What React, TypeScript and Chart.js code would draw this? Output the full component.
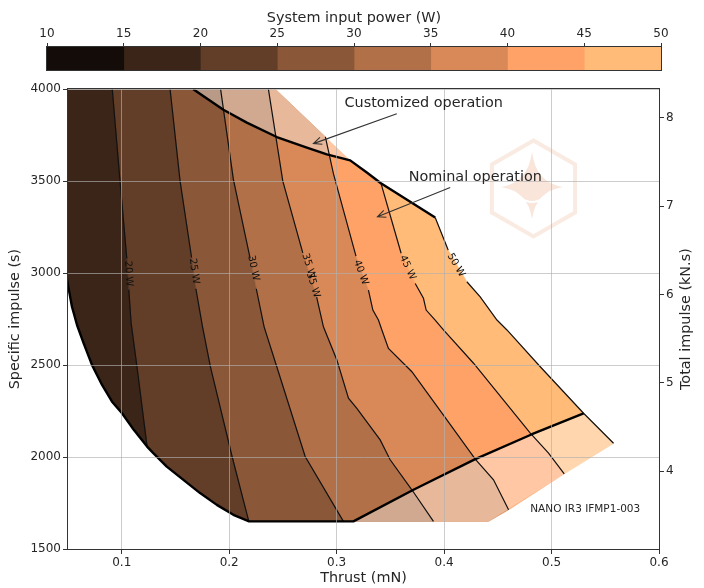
import React, { useEffect, useRef } from "react";
import { Chart, registerables } from "chart.js";

Chart.register(...registerables);

const FONT = "'DejaVu Sans', 'Liberation Sans', sans-serif";
const TEXT = "#262626";

// ---------- data ----------
const powerLevels = [10, 15, 20, 25, 30, 35, 40, 45, 50];
const bandColors = ["#130c08", "#3b2518", "#623e28", "#8a5738", "#b17047", "#d98957", "#ffa267", "#ffbb77"];

const xTicks = [0.1, 0.2, 0.3, 0.4, 0.5, 0.6];
const yTicks = [1500, 2000, 2500, 3000, 3500, 4000];
const y2Ticks = [4, 5, 6, 7, 8];
const thrustRange = [0.05, 0.6];
const ispRange = [1500, 4000];
const impulsePerIsp = 0.002081; // kN.s per second of specific impulse

// iso-power contour lines: [thrust (mN), specific impulse (s)], top to bottom
const c20 = [[0.0912, 4000], [0.0984, 3500], [0.1047, 3080], [0.1066, 2910], [0.1087, 2730], [0.1142, 2491], [0.1236, 2057]];
const c25 = [[0.145, 4000], [0.1543, 3500], [0.165, 3085], [0.169, 2915], [0.1752, 2708], [0.1825, 2491], [0.2027, 2003], [0.2182, 1652]];
const c30 = [[0.192, 4000], [0.2039, 3510], [0.2195, 3080], [0.2252, 2915], [0.2325, 2708], [0.2443, 2491], [0.2707, 2003], [0.3063, 1650]];
const c35 = [[0.2365, 4000], [0.2499, 3500], [0.2685, 3110], [0.2814, 2870], [0.2877, 2708], [0.3002, 2528], [0.311, 2320], [0.3188, 2265], [0.3405, 2093], [0.3498, 1985], [0.37, 1822], [0.3901, 1650]];
const c40 = [[0.2895, 3741], [0.297, 3541], [0.318, 3092], [0.3296, 2908], [0.3337, 2799], [0.3389, 2745], [0.3421, 2691], [0.3482, 2591], [0.37, 2464], [0.4026, 2202], [0.429, 1989], [0.446, 1876], [0.46, 1713]];
const c45 = [[0.3412, 3489], [0.36, 3108], [0.3731, 2944], [0.3808, 2863], [0.3833, 2799], [0.3917, 2745], [0.3994, 2691], [0.4274, 2510], [0.4802, 2130], [0.4972, 2021], [0.5118, 1909]];
const c50 = [[0.3917, 3302], [0.4026, 3143], [0.4038, 3125], [0.4212, 2953], [0.4336, 2871], [0.4492, 2745], [0.4585, 2691], [0.4895, 2491], [0.5298, 2238], [0.5577, 2075]];
const contourLines = [c20, c25, c30, c35, c40, c45, c50];
const contourPower = [20, 25, 30, 35, 40, 45, 50];
const contourGaps = [2, 2, 2, 2, 2, 1, 2]; // segment hidden behind the inline label

// inline contour labels
const labelPower = [20, 25, 30, 35, 35, 40, 45, 50];
const labelX = [0.1062, 0.1673, 0.2225, 0.2739, 0.2781, 0.3226, 0.3661, 0.4111];
const labelY = [2997, 3011, 3027, 3038, 2935, 3003, 3030, 3043];

// nominal operation envelope (thick lines)
const nominalUpper = [[0.1666, 4000], [0.1946, 3888], [0.2164, 3818], [0.2443, 3740], [0.2723, 3682], [0.2909, 3646], [0.3126, 3613], [0.3281, 3547], [0.3412, 3489], [0.3917, 3302]];
const nominalLower = [
  [0.045, 3110], [0.05, 2935], [0.0537, 2817], [0.0584, 2718], [0.0646, 2618], [0.0723, 2501], [0.0817, 2392],
  [0.091, 2301], [0.1003, 2238], [0.1112, 2148], [0.1236, 2057], [0.1294, 2021], [0.1419, 1948], [0.1574, 1876],
  [0.1729, 1804], [0.1885, 1740], [0.2039, 1686], [0.2185, 1650], [0.3156, 1650], [0.3715, 1822], [0.429, 1989],
  [0.4818, 2124], [0.5298, 2238],
];
// customized-operation domain edges
const domainTopEdge = [[0.243, 4000], [0.3126, 3613]];
const domainBottomEdge = [[0.4413, 1650], [0.5577, 2075]];

// annotations
const annText = ["Customized operation", "Nominal operation"];
const annTextX = [0.381, 0.429];
const annTextY = [3923, 3521];
const annFromX = [0.356, 0.4057];
const annFromY = [3867, 3465];
const annToX = [0.2784, 0.338];
const annToY = [3704, 3306];
const modelText = "NANO IR3 IFMP1-003";
const modelX = 0.4802;
const modelY = 1717;
const logoX = 0.4832;
const logoY = 3460;

// ---------- derived polygons ----------
const rev = (a: number[][]) => [...a].reverse();
const bandPolys = [
  [[0.04, 4000], ...nominalLower.slice(0, 11), ...rev(c20)],
  [...c20, ...nominalLower.slice(11, 17), ...rev(c25)],
  [...c25, nominalLower[17], ...rev(c30)],
  [...c30, ...rev(c35)],
  [...c35, domainBottomEdge[0], ...rev(c40), domainTopEdge[0]],
  [...c40, ...rev(c45), nominalUpper[7], nominalUpper[6]],
  [...c45, ...rev(c50)],
];
const topFaded = [...nominalUpper.slice(0, 7), domainTopEdge[0]];
const bottomFaded = [...nominalLower.slice(18), domainBottomEdge[1], domainBottomEdge[0]];

const toXY = (a: number[][]) => a.map(([x, y]) => ({ x, y }));

// ---------- plugins ----------
const framePlugin = {
  id: "frame",
  afterDraw(chart: any) {
    const { ctx, chartArea: a } = chart;
    ctx.save();
    ctx.strokeStyle = "#333";
    ctx.lineWidth = 1;
    ctx.strokeRect(Math.round(a.left) - 0.5, Math.round(a.top) - 0.5, Math.round(a.right - a.left) + 1, Math.round(a.bottom - a.top) + 1);
    ctx.restore();
  },
};

const watermarkPlugin = {
  id: "watermark",
  afterDatasetsDraw(chart: any) {
    const { ctx, scales, chartArea: a } = chart;
    const cx = scales.x.getPixelForValue(logoX);
    const cy = scales.y.getPixelForValue(logoY);
    ctx.save();
    ctx.beginPath();
    ctx.rect(a.left, a.top, a.right - a.left, a.bottom - a.top);
    ctx.clip();
    ctx.beginPath();
    for (let k = 0; k < 6; k++) {
      const ang = (-90 + 60 * k) * Math.PI / 180;
      const px = cx + 48 * Math.cos(ang);
      const py = cy + 48 * Math.sin(ang);
      if (k === 0) ctx.moveTo(px, py); else ctx.lineTo(px, py);
    }
    ctx.closePath();
    ctx.strokeStyle = "rgba(240,190,160,0.3)";
    ctx.lineWidth = 4;
    ctx.stroke();
    const sx = cx - 1.5, sy = cy - 1.5;
    ctx.beginPath();
    ctx.moveTo(sx, sy - 35);
    ctx.quadraticCurveTo(sx + 4, sy - 4, sx + 31, sy);
    ctx.quadraticCurveTo(sx + 4, sy + 4, sx, sy + 32);
    ctx.quadraticCurveTo(sx - 4, sy + 4, sx - 31, sy);
    ctx.quadraticCurveTo(sx - 4, sy - 4, sx, sy - 35);
    ctx.closePath();
    ctx.fillStyle = "rgba(240,190,160,0.4)";
    ctx.fill();
    ctx.beginPath();
    ctx.moveTo(sx - 11, sy + 11);
    ctx.quadraticCurveTo(sx, sy + 19, sx + 11, sy + 11);
    ctx.strokeStyle = "#ffffff";
    ctx.lineWidth = 2;
    ctx.stroke();
    ctx.restore();
  },
};

const overlayPlugin = {
  id: "overlay",
  afterDraw(chart: any) {
    const { ctx, scales, chartArea: a } = chart;
    const X = (v: number) => scales.x.getPixelForValue(v);
    const Y = (v: number) => scales.y.getPixelForValue(v);
    ctx.save();
    // inline contour labels
    ctx.font = `10px ${FONT}`;
    ctx.fillStyle = "#111";
    ctx.textAlign = "center";
    ctx.textBaseline = "middle";
    labelPower.forEach((p, i) => {
      const li = contourPower.indexOf(p);
      const line = contourLines[li];
      const g = contourGaps[li];
      const p0 = line[g], p1 = line[g + 1];
      const ang = Math.atan2(Y(p1[1]) - Y(p0[1]), X(p1[0]) - X(p0[0]));
      ctx.save();
      ctx.translate(X(labelX[i]), Y(labelY[i]));
      ctx.rotate(ang);
      ctx.fillText(`${p} W`, 0, 0);
      ctx.restore();
    });
    // annotations with arrows
    ctx.font = `14.4px ${FONT}`;
    ctx.fillStyle = TEXT;
    annText.forEach((t, i) => {
      ctx.fillText(t, X(annTextX[i]), Y(annTextY[i]));
      const x0 = X(annFromX[i]), y0 = Y(annFromY[i]);
      const x1 = X(annToX[i]), y1 = Y(annToY[i]);
      ctx.strokeStyle = "#333";
      ctx.lineWidth = 1.1;
      ctx.beginPath();
      ctx.moveTo(x0, y0);
      ctx.lineTo(x1, y1);
      const ang = Math.atan2(y1 - y0, x1 - x0);
      const hl = 9, hw = 0.42;
      ctx.moveTo(x1 - hl * Math.cos(ang - hw), y1 - hl * Math.sin(ang - hw));
      ctx.lineTo(x1, y1);
      ctx.lineTo(x1 - hl * Math.cos(ang + hw), y1 - hl * Math.sin(ang + hw));
      ctx.stroke();
    });
    // thruster model
    ctx.font = `10.5px ${FONT}`;
    ctx.textAlign = "left";
    ctx.fillText(modelText, X(modelX), Y(modelY));
    // right axis title (reads bottom to top)
    ctx.font = `14.4px ${FONT}`;
    ctx.textAlign = "center";
    ctx.save();
    ctx.translate(scales.y2.right - 18, (a.top + a.bottom) / 2);
    ctx.rotate(-Math.PI / 2);
    ctx.fillText("Total impulse (kN.s)", 0, 0);
    ctx.restore();
    ctx.restore();
  },
};

export default function App() {
  const cbRef = useRef<HTMLCanvasElement>(null);
  const mainRef = useRef<HTMLCanvasElement>(null);

  useEffect(() => {
    const tickFont = { family: FONT, size: 12 };
    const titleFont = { family: FONT, size: 14.4 };

    const cb = new Chart(cbRef.current as HTMLCanvasElement, {
      type: "bar",
      data: {
        labels: [""],
        datasets: bandColors.map((c, i) => ({
          data: [[powerLevels[i], powerLevels[i + 1]]],
          backgroundColor: c,
          borderWidth: 0,
          grouped: false,
          barPercentage: 1,
          categoryPercentage: 1,
        })) as any,
      },
      options: {
        indexAxis: "y",
        responsive: false,
        animation: false,
        events: [],
        layout: { padding: { left: 47, right: 43, top: 0, bottom: 10 } },
        plugins: { legend: { display: false }, tooltip: { enabled: false } },
        scales: {
          x: {
            type: "linear",
            position: "top",
            min: powerLevels[0],
            max: powerLevels[powerLevels.length - 1],
            afterBuildTicks: (ax: any) => { ax.ticks = powerLevels.map((v) => ({ value: v })); },
            afterFit: (s: any) => { s.height = 47; },
            grid: { drawOnChartArea: false, drawTicks: true, tickLength: 4, tickColor: "#333" },
            border: { display: false },
            ticks: { font: tickFont, color: TEXT, padding: 2, maxRotation: 0 },
            title: { display: true, text: "System input power (W)", font: titleFont, color: TEXT, padding: { top: 10, bottom: 0 } },
          },
          y: { display: false },
        },
      } as any,
      plugins: [framePlugin],
    });

    const datasets: any[] = [];
    bandPolys.forEach((poly, i) => {
      datasets.push({
        data: toXY(poly),
        fill: "shape",
        backgroundColor: bandColors[i + 1],
        borderColor: bandColors[i + 1],
        borderWidth: 0.6,
        order: 100,
        clip: 0,
      });
    });
    [topFaded, bottomFaded].forEach((poly) => {
      datasets.push({
        data: toXY(poly),
        fill: "shape",
        backgroundColor: "rgba(255,255,255,0.4)",
        borderWidth: 0,
        order: 50,
        clip: 0,
      });
    });
    contourLines.forEach((line, i) => {
      const gap = contourGaps[i];
      datasets.push({
        data: toXY(line),
        fill: false,
        borderColor: "#111",
        borderWidth: 1.2,
        order: 20,
        clip: 0,
        segment: { borderColor: (ctx: any) => (ctx.p0DataIndex === gap ? "rgba(0,0,0,0)" : undefined) },
      });
    });
    [nominalUpper, nominalLower].forEach((line) => {
      datasets.push({
        data: toXY(line),
        fill: false,
        borderColor: "#000",
        borderWidth: 2.4,
        borderJoinStyle: "round",
        order: 10,
        clip: 0,
      });
    });

    const gridColor = "rgba(176,176,176,0.65)";
    const main = new Chart(mainRef.current as HTMLCanvasElement, {
      type: "line",
      data: { datasets },
      options: {
        responsive: false,
        animation: false,
        events: [],
        layout: { padding: { left: 0, right: 0, top: 9, bottom: 0 } },
        elements: { point: { radius: 0, hoverRadius: 0 }, line: { tension: 0 } },
        plugins: { legend: { display: false }, tooltip: { enabled: false } },
        scales: {
          x: {
            type: "linear",
            position: "bottom",
            min: thrustRange[0],
            max: thrustRange[1],
            afterBuildTicks: (ax: any) => { ax.ticks = xTicks.map((v) => ({ value: v })); },
            afterFit: (s: any) => { s.height = 39; },
            grid: { color: gridColor, lineWidth: 1, z: 1, drawTicks: true, tickLength: 5, tickColor: "#333" },
            border: { display: false },
            ticks: { font: tickFont, color: TEXT, padding: 2, maxRotation: 0, callback: (v: any) => String(+Number(v).toFixed(2)) },
            title: { display: true, text: "Thrust (mN)", font: titleFont, color: TEXT, padding: { top: 0, bottom: 1 } },
          },
          y: {
            type: "linear",
            position: "left",
            min: ispRange[0],
            max: ispRange[1],
            afterBuildTicks: (ax: any) => { ax.ticks = yTicks.map((v) => ({ value: v })); },
            afterFit: (s: any) => { s.width = 68; },
            grid: { color: gridColor, lineWidth: 1, z: 1, drawTicks: true, tickLength: 5, tickColor: "#333" },
            border: { display: false },
            ticks: { font: tickFont, color: TEXT, padding: 2, callback: (v: any) => String(v) },
            title: { display: true, text: "Specific impulse (s)", font: titleFont, color: TEXT, padding: { top: 7, bottom: 0 } },
          },
          y2: {
            type: "linear",
            position: "right",
            min: ispRange[0] * impulsePerIsp,
            max: ispRange[1] * impulsePerIsp,
            afterBuildTicks: (ax: any) => { ax.ticks = y2Ticks.map((v) => ({ value: v })); },
            afterFit: (s: any) => { s.width = 45; },
            grid: { drawOnChartArea: false, drawTicks: true, tickLength: 5, tickColor: "#333", z: 1 },
            border: { display: false },
            ticks: { font: tickFont, color: TEXT, padding: 2, callback: (v: any) => String(v) },
          },
        },
      } as any,
      plugins: [watermarkPlugin, overlayPlugin, framePlugin],
    });

    return () => {
      cb.destroy();
      main.destroy();
    };
  }, []);

  return (
    <div style={{ position: "absolute", left: 0, top: 0, width: 704, height: 588, background: "#fff" }}>
      <canvas ref={cbRef} width={704} height={80} style={{ position: "absolute", left: 0, top: 0, width: 704, height: 80 }} />
      <canvas ref={mainRef} width={704} height={508} style={{ position: "absolute", left: 0, top: 80, width: 704, height: 508 }} />
    </div>
  );
}
